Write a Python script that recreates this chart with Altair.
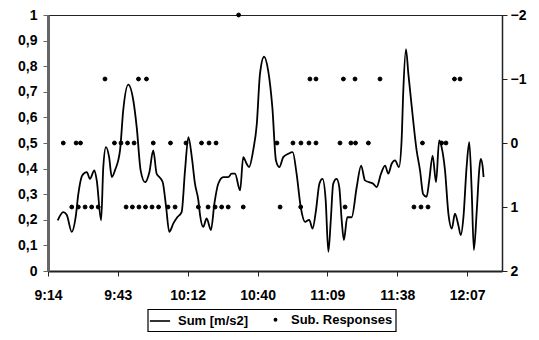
import altair as alt
import pandas as pd

# Sum [m/s2] trace: time in minutes after midnight, value
LINE_TIME = [
    558.4, 560.7, 562.1, 564.2, 565.8, 566.9, 568.5, 570.4, 571.7, 573.5,
    574.5, 576.3, 577.2, 578.3, 579.6, 580.7, 582.0, 584.1, 585.4, 587.5,
    589.6, 591.0, 592.6, 594.4, 596.2, 597.8, 599.2, 600.3, 601.7, 603.1,
    604.4, 606.1, 607.7, 609.5, 610.9, 612.3, 613.7, 615.0, 616.4, 617.1,
    618.4, 619.8, 621.6, 623.0, 624.6, 626.7, 628.7, 630.1, 631.5, 633.6,
    634.9, 636.3, 637.3, 639.0, 640.5, 641.8, 643.5, 645.2, 646.9, 648.4,
    649.8, 651.4, 653.5, 655.3, 656.9, 658.6, 660.4, 662.1, 663.5, 664.9,
    666.3, 667.6, 668.9, 670.0, 671.0, 672.0, 673.4, 674.5, 675.5, 676.4,
    677.8, 679.6, 681.7, 683.5, 685.1, 686.8, 688.5, 689.9, 691.7, 693.4,
    694.7, 696.1, 697.5, 699.1, 700.2, 700.9, 702.0, 703.0, 704.4, 706.4,
    707.8, 709.1, 710.5, 711.6, 713.0, 714.4, 715.7, 716.7, 718.1, 719.5,
    720.9, 722.2, 723.6, 724.6, 725.7, 727.0, 728.1, 729.1, 730.0, 731.2,
    732.2, 732.8, 733.6, 734.0,
]
LINE_SUM = [
    0.198, 0.230, 0.220, 0.153, 0.210, 0.300, 0.373, 0.386, 0.360, 0.393,
    0.354, 0.198, 0.406, 0.484, 0.445, 0.367, 0.393, 0.471, 0.626, 0.728,
    0.665, 0.560, 0.393, 0.347, 0.386, 0.471, 0.380, 0.367, 0.347, 0.250,
    0.153, 0.186, 0.210, 0.230, 0.393, 0.523, 0.445, 0.341, 0.276, 0.218,
    0.172, 0.205, 0.160, 0.263, 0.341, 0.367, 0.367, 0.380, 0.380, 0.315,
    0.445, 0.419, 0.406, 0.471, 0.575, 0.769, 0.837, 0.782, 0.640, 0.432,
    0.406, 0.445, 0.458, 0.464, 0.380, 0.250, 0.192, 0.200, 0.166, 0.237,
    0.341, 0.360, 0.276, 0.075, 0.198, 0.341, 0.360, 0.328, 0.198, 0.121,
    0.210, 0.210, 0.328, 0.412, 0.354, 0.347, 0.341, 0.328, 0.380, 0.412,
    0.380, 0.419, 0.432, 0.406, 0.510, 0.704, 0.867, 0.769, 0.640, 0.471,
    0.393, 0.300, 0.290, 0.354, 0.451, 0.347, 0.510, 0.484, 0.393, 0.224,
    0.166, 0.224, 0.179, 0.140, 0.210, 0.406, 0.503, 0.315, 0.082, 0.237,
    0.393, 0.438, 0.410, 0.367,
]
assert len(LINE_TIME) == len(LINE_SUM)

# Subjective responses (right axis), times in minutes after midnight
RESP_PLUS1 = [564.2, 566.9, 569.7, 572.4, 575.1, 586.6, 589.2, 591.9, 594.6, 597.3,
              600.0, 603.9, 606.8, 616.4, 620.4, 623.3, 626.0, 628.7, 634.9, 650.1,
              658.6, 676.9, 705.3, 708.2, 711.1]
RESP_ZERO = [560.7, 566.0, 567.8, 581.8, 584.5, 587.2, 589.9, 597.8, 604.9, 611.3,
             617.7, 620.8, 623.7, 648.8, 655.4, 658.7, 662.0, 664.9, 674.8, 679.3,
             681.2, 686.5, 708.8, 716.7, 718.5]
RESP_MINUS1 = [577.9, 591.7, 595.0, 662.4, 664.9, 676.2, 681.0, 691.3, 722.0, 724.3]
RESP_MINUS2 = [633.0]

X_DOMAIN = [554.4, 741.6]
X_TICKS = [554.4, 583.2, 612.0, 640.8, 669.6, 698.4, 727.2]
X_LABELS = ["9:14", "9:43", "10:12", "10:40", "11:09", "11:38", "12:07"]
LEFT_TICKS = [0, 0.1, 0.2, 0.3, 0.4, 0.5, 0.6, 0.7, 0.8, 0.9, 1.0]
RIGHT_TICKS = [-2, -1, 0, 1, 2]
SERIES = ["Sum [m/s2]", "Sub. Responses"]

FONT = "Liberation Sans"
LABEL_STYLE = dict(labelFont=FONT, labelFontSize=14, labelFontWeight="bold", labelColor="black")
LINE_SYMBOL = "M-1.25,-0.1H1.25V0.1H-1.25Z"

line_df = pd.DataFrame({"t": LINE_TIME, "v": LINE_SUM})
resp_rows = []
for val, times in [(1, RESP_PLUS1), (0, RESP_ZERO), (-1, RESP_MINUS1), (-2, RESP_MINUS2)]:
    for t in times:
        resp_rows.append({"t": t, "r": val, "series": SERIES[1]})
resp_df = pd.DataFrame(resp_rows)

x_scale = alt.Scale(domain=X_DOMAIN, nice=False, zero=False)
x_label_expr = "[" + ",".join(f"'{s}'" for s in X_LABELS) + "][round((datum.value - 554.4) / 28.8)]"

line = alt.Chart(line_df).mark_line(
    color="black", strokeWidth=1.8, interpolate="monotone"
).encode(
    x=alt.X("t:Q", scale=x_scale,
            axis=alt.Axis(values=X_TICKS, labelExpr=x_label_expr, title=None,
                          tickSize=5, labelPadding=12, domainWidth=2,
                          domainColor="#222", tickColor="#222", labelFlush=False,
                          grid=False, **LABEL_STYLE)),
    y=alt.Y("v:Q", scale=alt.Scale(domain=[0, 1], nice=False, zero=False),
            axis=alt.Axis(orient="left", values=LEFT_TICKS, title=None,
                          labelExpr="replace(format(datum.value, '.1~f'), '.', ',')",
                          tickSize=5, labelPadding=6, domainWidth=3,
                          domainColor="#666", tickColor="#666", grid=False,
                          **LABEL_STYLE)),
)

legend = alt.Legend(
    title=None, orient="none", legendX=100, legendY=294, direction="horizontal",
    padding=3, columnPadding=20, labelOffset=9,
    labelFont=FONT, labelFontSize=13, labelFontWeight="bold", labelColor="black",
    symbolStrokeColor="black", symbolStrokeWidth=1, symbolFillColor="black",
    symbolOpacity=1,
)

points = alt.Chart(resp_df).mark_point(
    filled=False, fill="black", stroke="black", strokeWidth=1, opacity=1
).encode(
    x=alt.X("t:Q", scale=x_scale),
    y=alt.Y("r:Q", scale=alt.Scale(domain=[-2, 2], reverse=True, nice=False, zero=False),
            axis=alt.Axis(orient="right", values=RIGHT_TICKS, title=None,
                          tickSize=5, labelPadding=3, domainWidth=1.5,
                          domainColor="#222", tickColor="#222", grid=False,
                          **LABEL_STYLE)),
    shape=alt.Shape("series:N", scale=alt.Scale(domain=SERIES, range=[LINE_SYMBOL, "circle"]),
                    legend=legend),
    size=alt.Size("series:N", scale=alt.Scale(type="ordinal", domain=SERIES, range=[260, 15]),
                  legend=legend),
)

# frame around the legend (legend box of the original)
legend_frame = alt.Chart(pd.DataFrame({"k": [0]})).mark_rect(
    filled=False, stroke="black", strokeWidth=1.2, fillOpacity=0
).encode(
    x=alt.value(100), x2=alt.value(348), y=alt.value(294.5), y2=alt.value(316.5)
)

chart = alt.layer(line, points, legend_frame).resolve_scale(y="independent").properties(
    width=454, height=256,
    background="white",
    autosize=alt.AutoSizeParams(type="none"),
    padding={"left": 40, "top": 7, "right": 29, "bottom": 61},
).configure_view(
    stroke="#222", strokeWidth=1
)

chart.save("out.html", embed_options={"renderer": "svg", "actions": False})
